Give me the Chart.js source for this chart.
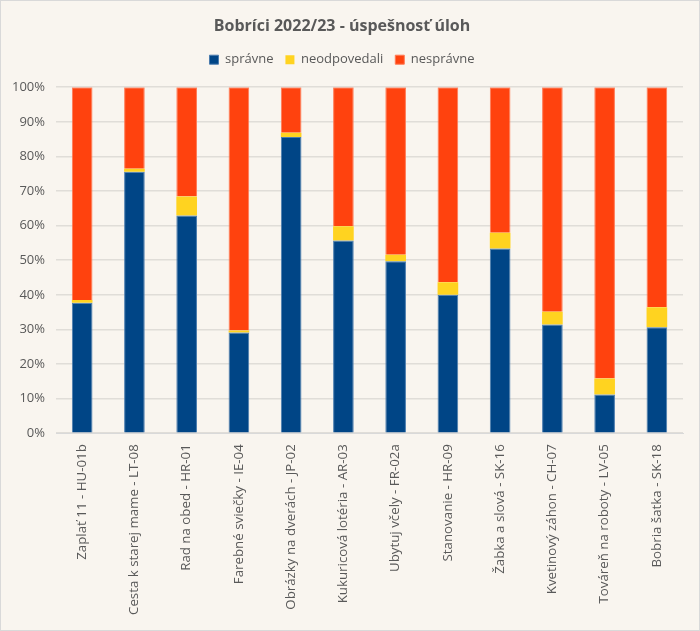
<!DOCTYPE html>
<html>
<head>
<meta charset="utf-8">
<script src="https://cdn.jsdelivr.net/npm/chart.js@4"></script>
<style>
  html, body { margin: 0; padding: 0; background: #f9f5ef; }
  #box { width: 698px; height: 629px; border: 1px solid #d9d9d9; background: #f9f5ef; }
</style>
</head>
<body>
<div id="box"><canvas id="chart" width="698" height="629"></canvas></div>
<script>
"use strict";

// tasks (x axis)
let tasks = [
    "Zaplať 11 - HU-01b",
    "Cesta k starej mame - LT-08",
    "Rad na obed - HR-01",
    "Farebné sviečky - IE-04",
    "Obrázky na dverách - JP-02",
    "Kukuricová lotéria - AR-03",
    "Ubytuj včely - FR-02a",
    "Stanovanie - HR-09",
    "Žabka a slová - SK-16",
    "Kvetinový záhon - CH-07",
    "Továreň na roboty - LV-05",
    "Bobria šatka - SK-18"
];

// percentages
let spravne = [37.7, 75.6, 62.9, 29.1, 85.6, 55.7, 49.7, 40.0, 53.4, 31.4, 11.2, 30.6];
let neodpovedali = [0.8, 0.8, 5.5, 0.6, 1.2, 4.1, 1.9, 3.6, 4.5, 3.7, 4.6, 5.8];
let nespravne = [61.5, 23.6, 31.6, 70.3, 13.2, 40.2, 48.4, 56.4, 42.1, 64.9, 84.2, 63.6];

let yTicks = [0, 10, 20, 30, 40, 50, 60, 70, 80, 90, 100];

const textColor = "#595959";
const font = "'Open Sans', 'Noto Sans', sans-serif";

// a bit more room under the legend
const legendGap = {
    id: "legendGap",
    beforeInit(chart) {
        const fit = chart.legend.fit;
        chart.legend.fit = function () {
            fit.bind(chart.legend)();
            this.height += 11;
        };
    }
};

const ctx = document.getElementById("chart");

new Chart(ctx, {
    type: "bar",
    data: {
        labels: tasks,
        datasets: [{
            label: "správne",
            data: spravne,
            backgroundColor: "#004586",
            borderColor: "#4a7cae",
            borderWidth: 1
        }, {
            label: "neodpovedali",
            data: neodpovedali,
            backgroundColor: "#ffd320",
            borderColor: "#ffd320",
            borderWidth: 0
        }, {
            label: "nesprávne",
            data: nespravne,
            backgroundColor: "#ff420e",
            borderColor: "#ff7a55",
            borderWidth: 1
        }]
    },
    plugins: [legendGap],
    options: {
        responsive: false,
        animation: false,
        layout: {
            padding: { left: 0, right: 16, top: 0, bottom: 4 }
        },
        datasets: {
            bar: {
                categoryPercentage: 0.76,
                barPercentage: 0.52
            }
        },
        plugins: {
            title: {
                display: true,
                text: "Bobríci 2022/23 - úspešnosť úloh",
                color: textColor,
                font: { family: font, size: 16, weight: "bold" },
                padding: { top: 16, bottom: 5 }
            },
            legend: {
                position: "top",
                labels: {
                    color: textColor,
                    font: { family: font, size: 13 },
                    boxWidth: 9,
                    boxHeight: 9,
                    padding: 12
                }
            },
            tooltip: { enabled: false }
        },
        scales: {
            x: {
                stacked: true,
                grid: { display: false, drawTicks: false },
                border: { display: true, color: "#d9d9d9" },
                ticks: {
                    color: textColor,
                    font: { family: font, size: 13.3 },
                    maxRotation: 90,
                    minRotation: 90,
                    padding: 11
                }
            },
            y: {
                stacked: true,
                min: 0,
                max: 100,
                afterBuildTicks: function (axis) {
                    axis.ticks = yTicks.map(v => ({ value: v }));
                },
                grid: { color: "#e0ddd8", drawTicks: false, lineWidth: 1.5 },
                border: { display: false },
                ticks: {
                    color: textColor,
                    font: { family: font, size: 13 },
                    padding: 11,
                    callback: v => v + "%"
                }
            }
        }
    }
});
</script>
</body>
</html>
